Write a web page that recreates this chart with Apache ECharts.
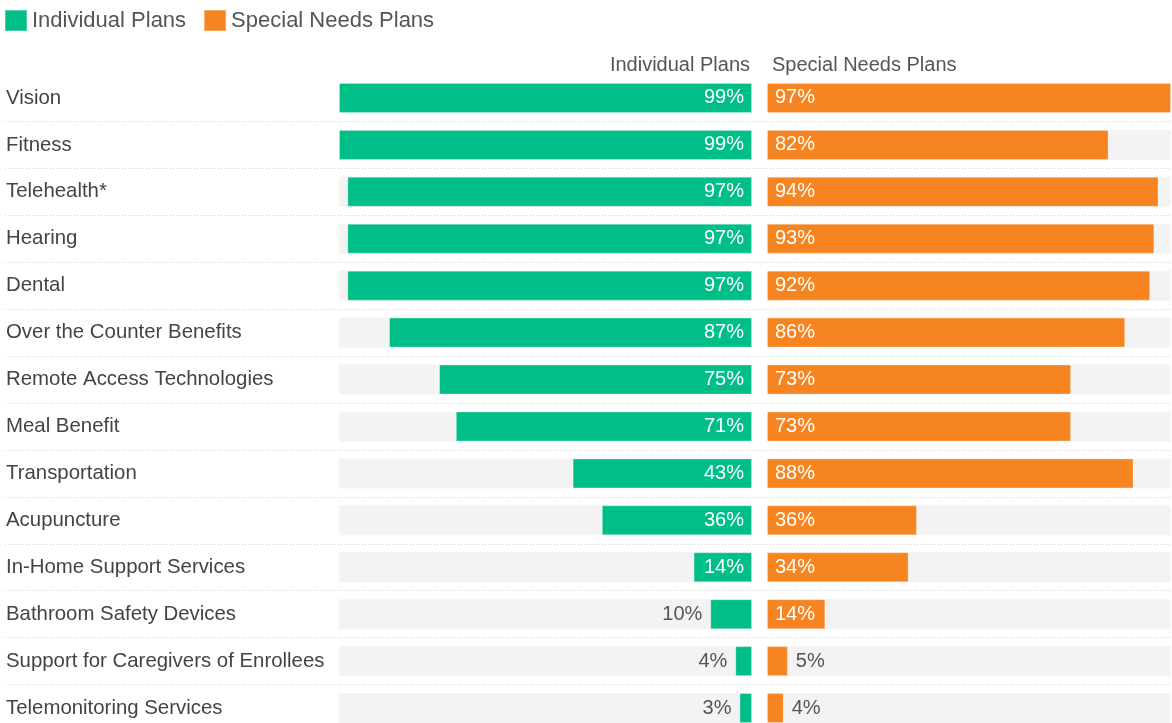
<!DOCTYPE html>
<html>
<head>
<meta charset="utf-8">
<script src="https://cdn.jsdelivr.net/npm/echarts@6/dist/echarts.min.js"></script>
<style>
html,body{margin:0;padding:0;background:#fff;}
#chart{width:1172px;height:723px;}
</style>
</head>
<body>
<div id="chart"></div>
<script>
var categories = ["Vision","Fitness","Telehealth*","Hearing","Dental","Over the Counter Benefits","Remote Access Technologies","Meal Benefit","Transportation","Acupuncture","In-Home Support Services","Bathroom Safety Devices","Support for Caregivers of Enrollees","Telemonitoring Services"];
var individualPlans = [99,99,97,97,97,87,75,71,43,36,14,10,4,3];
var specialNeedsPlans = [97,82,94,93,92,86,73,73,88,36,34,14,5,4];
var seriesNames = ["Individual Plans","Special Needs Plans"];

var FONT = '"Liberation Sans", Arial, sans-serif';
var GREEN = '#00be88';
var ORANGE = '#f68420';
var TOP = 74.5, BAND = 46.93;
var H = BAND * categories.length;

function makeData(values, side){
  return values.map(function(v){
    var inside = v >= 12;
    var pos;
    if (side === 'left') pos = inside ? 'insideRight' : 'left';
    else pos = inside ? 'insideLeft' : 'right';
    return {
      value: v,
      label: {
        show: true,
        position: pos,
        distance: 8,
        color: inside ? '#ffffff' : '#555555'
      }
    };
  });
}

var chart = echarts.init(document.getElementById('chart'), null, {renderer:'canvas'});
chart.setOption({
  animation: false,
  textStyle: {fontFamily: FONT},
  legend: {
    left: 4, top: 9, padding: 0,
    icon: 'rect',
    itemWidth: 22, itemHeight: 21,
    itemGap: 17,
    textStyle: {fontSize: 22, color: '#555', fontFamily: FONT},
    data: seriesNames,
    selectedMode: false
  },
  grid: [
    {left: 5, right: 0, top: TOP, height: H, outerBoundsMode: 'none'},
    {left: 339, width: 413, top: TOP, height: H, outerBoundsMode: 'none'},
    {left: 767, width: 404, top: TOP, height: H, outerBoundsMode: 'none'}
  ],
  xAxis: [
    {gridIndex: 0, type: 'value', show: false, min: 0, max: 1},
    {gridIndex: 1, type: 'value', min: 0, max: 99, inverse: true, show: false},
    {gridIndex: 2, type: 'value', min: 0, max: 97, show: false}
  ],
  yAxis: [
    {
      gridIndex: 0, type: 'category', data: categories, inverse: true,
      axisLine: {show: false}, axisTick: {show: false},
      axisLabel: {inside: true, margin: 1, fontSize: 20.4, color: '#444', fontFamily: FONT, align: 'left'},
      splitLine: {
        show: true,
        interval: function(index){ return index > 0; },
        lineStyle: {color: '#cfcfcf', width: 1, type: [1, 2]}
      }
    },
    {gridIndex: 1, type: 'category', data: categories, inverse: true, show: false},
    {gridIndex: 2, type: 'category', data: categories, inverse: true, show: false}
  ],
  graphic: [
    {type: 'text', right: 1172 - 750, top: 55, style: {text: seriesNames[0], fill: '#555', font: '20px ' + FONT, textAlign: 'right'}},
    {type: 'text', left: 772, top: 55, style: {text: seriesNames[1], fill: '#555', font: '20px ' + FONT}}
  ],
  series: [
    {
      name: seriesNames[0], type: 'bar', xAxisIndex: 1, yAxisIndex: 1,
      barWidth: 30,
      itemStyle: {color: GREEN, borderColor: 'rgba(255,255,255,0.3)', borderWidth: 1},
      showBackground: true,
      backgroundStyle: {color: '#f3f3f3'},
      label: {formatter: '{c}%', fontSize: 20, fontFamily: FONT},
      data: makeData(individualPlans, 'left')
    },
    {
      name: seriesNames[1], type: 'bar', xAxisIndex: 2, yAxisIndex: 2,
      barWidth: 30,
      itemStyle: {color: ORANGE, borderColor: 'rgba(255,255,255,0.3)', borderWidth: 1},
      showBackground: true,
      backgroundStyle: {color: '#f3f3f3'},
      label: {formatter: '{c}%', fontSize: 20, fontFamily: FONT},
      data: makeData(specialNeedsPlans, 'right')
    }
  ]
});
</script>
</body>
</html>
